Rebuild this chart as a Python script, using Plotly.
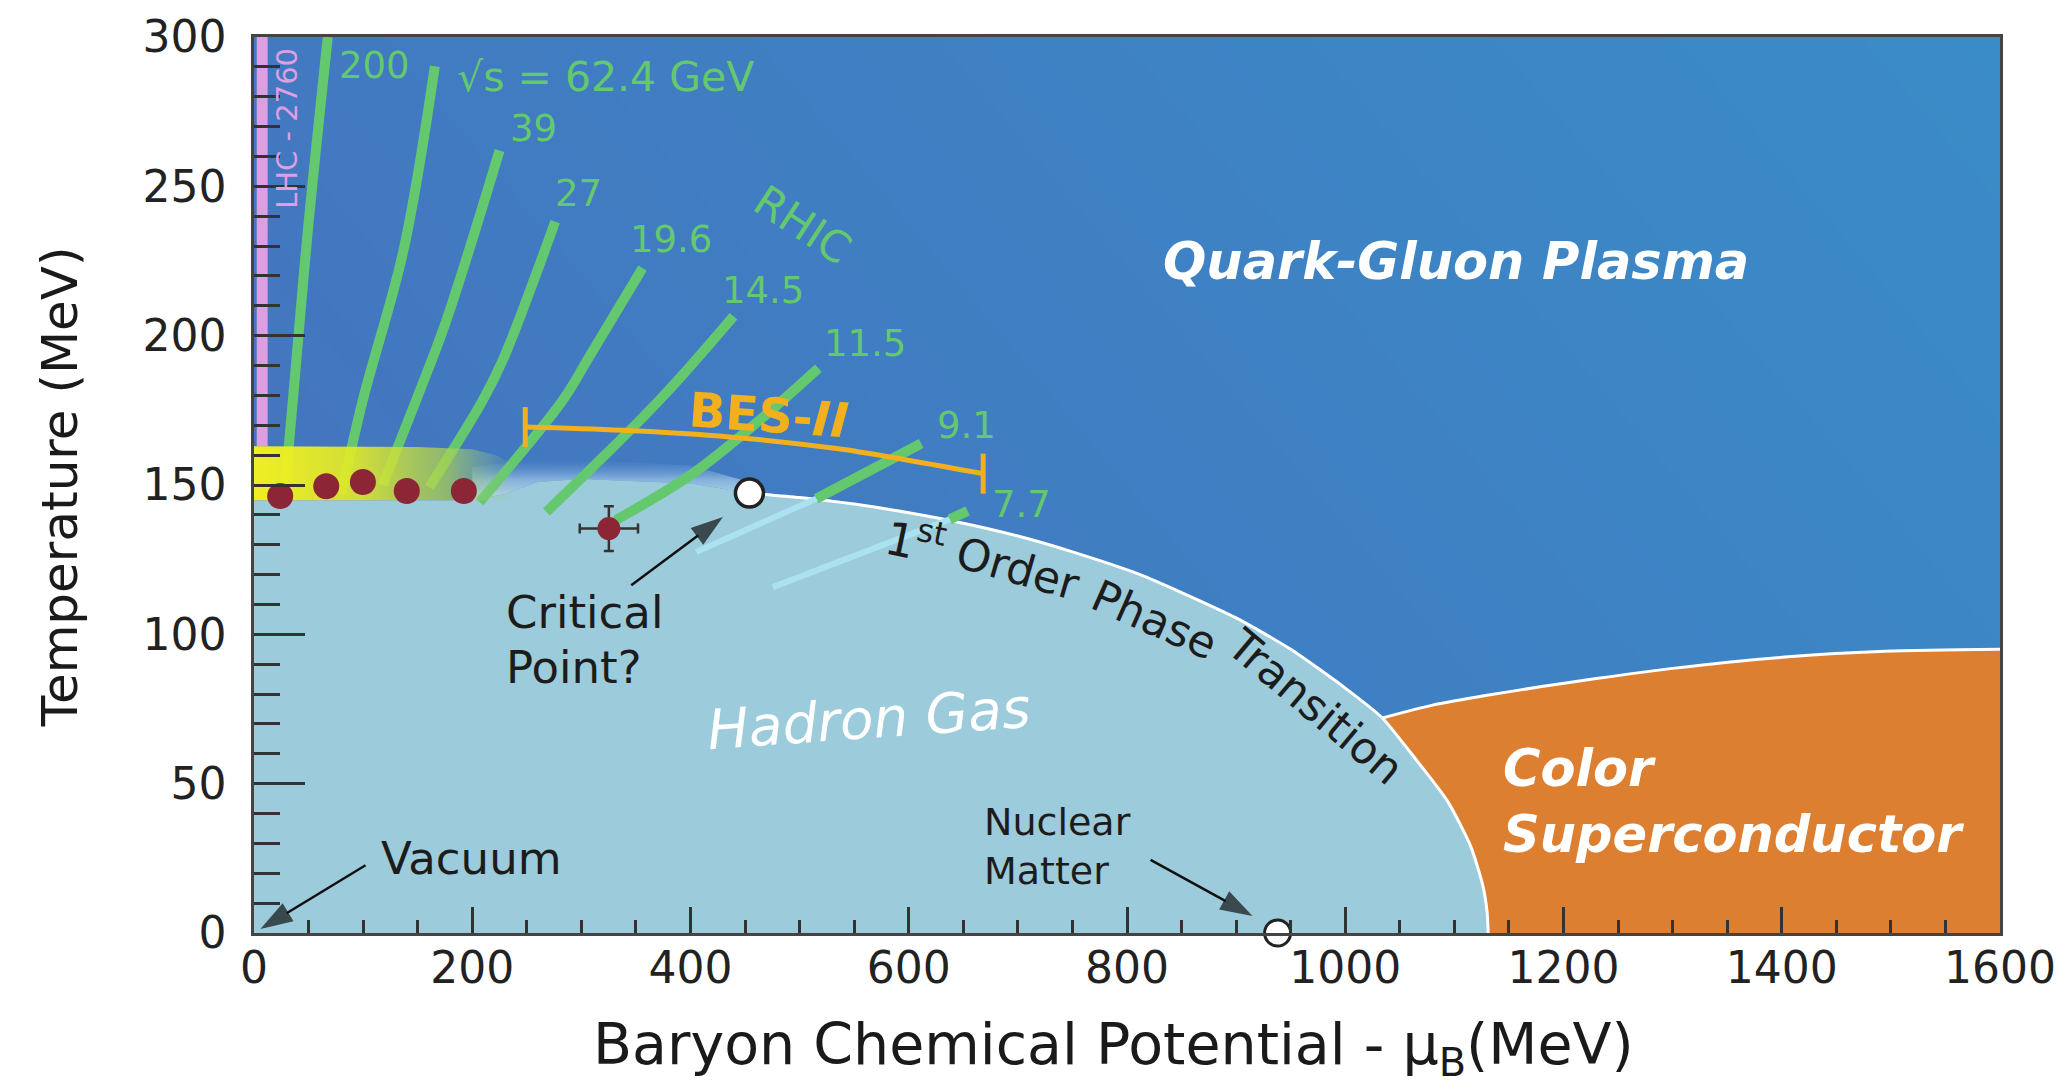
import plotly.graph_objects as go

FONT = "DejaVu Sans"

# ---------------- phase structure (mu_B [MeV], T [MeV]) ----------------
# first-order line from the critical point down to T = 0
boundary_mu = [454, 500, 550, 600, 650, 700, 750, 812, 850, 900, 950, 1000, 1034, 1065, 1094, 1115, 1126, 1130, 1131]
boundary_T = [147.3, 145.8, 143.6, 140.7, 137.2, 132.9, 127.6, 120.0, 114.0, 105.5, 95.0, 82.0, 72.0, 58.0, 44.0, 29.0, 16.0, 7.0, 0.0]

# upper edge of the hadron gas in the crossover region
crossover_mu = [0, 200, 230, 260, 300, 400, 454]
crossover_T = [144.9, 144.9, 147.0, 151.0, 152.0, 150.5, 147.3]

# soft edge above the crossover
haze_mu = [200, 240, 300, 400, 454]
haze_T = [156.0, 158.0, 158.5, 156.5, 151.0]

# colour-superconductor upper boundary
csc_mu = [1034, 1080, 1130, 1180, 1230, 1300, 1400, 1500, 1600]
csc_T = [72.0, 76.3, 79.6, 82.5, 85.2, 88.6, 92.3, 94.4, 95.0]

# lattice crossover band
band_mu = [0, 150, 200, 222, 237, 237, 0]
band_T = [163.0, 162.7, 162.0, 160.0, 157.0, 144.9, 144.9]

# LHC strip
lhc_mu = [2.5, 12.5]
lhc_T = [163.0, 300.0]

# ---------------- collision-energy trajectories ----------------
energy_labels = ["200", "√s = 62.4 GeV", "39", "27", "19.6", "14.5", "11.5", "9.1", "7.7"]
traj_mu = [
    [67.6, 49.3, 35.6, 28.0],
    [165.7, 137.0, 99.7, 80.0],
    [225.0, 175.9, 148.6, 118.0],
    [276.0, 229.0, 209.7, 160.7],
    [356.0, 306.8, 283.0, 206.7],
    [439.4, 371.5, 268.0],
    [517.2, 463.3, 402.0, 331.4],
    [611.4, 515.2],
    [654.0, 637.4],
]
traj_T = [
    [300.0, 235.0, 178.4, 147.0],
    [290.2, 228.6, 178.4, 147.0],
    [262.0, 204.7, 178.4, 150.0],
    [238.2, 192.7, 178.4, 149.3],
    [222.6, 192.7, 178.4, 144.3],
    [206.5, 178.4, 141.0],
    [189.1, 171.7, 153.8, 138.2],
    [163.9, 145.4],
    [141.3, 138.5],
]
# continuation of the two lowest energies inside the hadron gas
hg_traj_mu = [[515.2, 405.3], [637.4, 475.5]]
hg_traj_T = [[145.4, 127.6], [138.5, 115.8]]

label_mu = [75.6, 184.0, 255.7, 297.4, 382.0, 466.0, 560.0, 653.0, 703.7]
label_T = [290.5, 286.6, 269.3, 247.7, 232.2, 215.2, 197.5, 170.0, 143.5]
label_anchor = ["left", "left", "center", "center", "center", "center", "center", "center", "center"]
label_size = [37, 41, 37, 37, 37, 37, 37, 37, 37]

# ---------------- BES-II coverage ----------------
bes_mu = [248.6, 337.6, 435.7, 533.9, 599.4, 668.2]
bes_T = [169.4, 168.3, 166.1, 162.2, 158.3, 153.8]
bes_bar_half = 6.7

# ---------------- freeze-out points ----------------
fo_mu = [24.0, 66.2, 99.8, 140.0, 192.3]
fo_T = [146.3, 149.6, 151.0, 148.0, 148.0]
cp_est_mu = [325.2]
cp_est_T = [135.4]
cp_est_err_mu = [26.7]
cp_est_err_T = [7.5]

critical_mu = [454.0]
critical_T = [147.3]
nuclear_mu = [938.0]
nuclear_T = [0.0]

# pointer arrows: tail -> head
arrow_tail_mu = [345.7, 102.2, 821.6]
arrow_tail_T = [116.4, 22.7, 24.5]
arrow_head_mu = [429.7, 5.9, 915.0]
arrow_head_T = [139.3, 1.3, 5.7]

# ---------------- colours ----------------
QGP_LOW = "#4571bd"
QGP_HIGH = "#3a8cc8"
HADRON = "#9ccbdb"
ORANGE = "#dd7f31"
GREEN = "#64c86e"
CYAN = "#aae2f2"
BES = "#f2b01e"
PINK = "#dca0e0"
DOT = "#8c2535"
INK = "#1c1c1c"

fig = go.Figure()

# QGP background
fig.add_trace(go.Heatmap(
    x=[0, 1600], y=[0, 300], z=[[0.0, 0.7], [0.3, 1.0]],
    colorscale=[[0, QGP_LOW], [1, QGP_HIGH]], zsmooth="best",
    showscale=False, hoverinfo="skip"))

# hadron gas region
hg_x = crossover_mu + boundary_mu[1:] + [0]
hg_y = crossover_T + boundary_T[1:] + [0]
fig.add_trace(go.Scatter(x=hg_x, y=hg_y, mode="lines", fill="toself",
                         fillcolor=HADRON, line=dict(width=0), hoverinfo="skip"))

# colour superconductor region
i0 = boundary_mu.index(1034)
sc_x = csc_mu + [1600] + boundary_mu[i0:][::-1]
sc_y = csc_T + [0] + boundary_T[i0:][::-1]
fig.add_trace(go.Scatter(x=sc_x, y=sc_y, mode="lines", fill="toself",
                         fillcolor=ORANGE, line=dict(width=0), hoverinfo="skip"))

# soft crossover edge
edge = [(m, t) for m, t in zip(crossover_mu, crossover_T) if m >= haze_mu[0]][::-1]
hz_x = haze_mu + [m for m, _ in edge]
hz_y = haze_T + [t for _, t in edge]
fig.add_trace(go.Scatter(
    x=hz_x, y=hz_y, mode="lines", fill="toself", line=dict(width=0),
    fillgradient=dict(type="vertical", colorscale=[
        [0, "rgba(205,232,243,0.9)"], [0.5, "rgba(190,224,240,0.55)"],
        [1, "rgba(120,170,220,0)"]]),
    hoverinfo="skip"))

# white phase boundaries
fig.add_trace(go.Scatter(x=boundary_mu, y=boundary_T, mode="lines",
                         line=dict(color="white", width=3, shape="spline", smoothing=0.6),
                         hoverinfo="skip"))
fig.add_trace(go.Scatter(x=csc_mu, y=csc_T, mode="lines",
                         line=dict(color="white", width=3, shape="spline", smoothing=0.6),
                         hoverinfo="skip"))

# LHC strip
fig.add_trace(go.Scatter(
    x=[lhc_mu[0], lhc_mu[1], lhc_mu[1], lhc_mu[0], lhc_mu[0]],
    y=[lhc_T[0], lhc_T[0], lhc_T[1], lhc_T[1], lhc_T[0]],
    mode="lines", fill="toself", fillcolor=PINK, line=dict(width=0), hoverinfo="skip"))

# collision-energy trajectories
for mx, ty in zip(traj_mu, traj_T):
    fig.add_trace(go.Scatter(x=mx, y=ty, mode="lines",
                             line=dict(color=GREEN, width=10, shape="spline"),
                             hoverinfo="skip"))
for mx, ty in zip(hg_traj_mu, hg_traj_T):
    fig.add_trace(go.Scatter(x=mx, y=ty, mode="lines",
                             line=dict(color=CYAN, width=6), hoverinfo="skip"))

# lattice crossover band
fig.add_trace(go.Scatter(
    x=band_mu, y=band_T, mode="lines", fill="toself", line=dict(width=0),
    fillgradient=dict(type="horizontal", colorscale=[
        [0, "rgba(246,242,30,0.97)"], [0.4, "rgba(226,234,40,0.90)"],
        [0.75, "rgba(175,210,80,0.70)"], [1, "rgba(150,205,160,0.05)"]]),
    hoverinfo="skip"))

# BES-II range
fig.add_trace(go.Scatter(x=bes_mu, y=bes_T, mode="lines",
                         line=dict(color=BES, width=5, shape="spline"), hoverinfo="skip"))
for k in (0, -1):
    fig.add_trace(go.Scatter(x=[bes_mu[k], bes_mu[k]],
                             y=[bes_T[k] - bes_bar_half, bes_T[k] + bes_bar_half],
                             mode="lines", line=dict(color=BES, width=5), hoverinfo="skip"))

# freeze-out points
fig.add_trace(go.Scatter(x=fo_mu, y=fo_T, mode="markers",
                         marker=dict(color=DOT, size=26, line=dict(width=0)),
                         hoverinfo="skip"))
fig.add_trace(go.Scatter(
    x=cp_est_mu, y=cp_est_T, mode="markers",
    marker=dict(color=DOT, size=23, line=dict(width=0)),
    error_x=dict(type="data", array=cp_est_err_mu, color="#333", thickness=2.5, width=5),
    error_y=dict(type="data", array=cp_est_err_T, color="#333", thickness=2.5, width=5),
    hoverinfo="skip"))

# pointer arrows (shaft + arrowhead oriented along the shaft)
for tx, ty, hx, hy in zip(arrow_tail_mu, arrow_tail_T, arrow_head_mu, arrow_head_T):
    fig.add_trace(go.Scatter(
        x=[tx, hx], y=[ty, hy], mode="lines+markers", cliponaxis=False,
        line=dict(color="#111", width=2.5),
        marker=dict(symbol="arrow", size=[0, 34], angleref="previous", color="#111",
                    line=dict(width=0)),
        hoverinfo="skip"))

# critical point and nuclear matter
fig.add_trace(go.Scatter(x=critical_mu, y=critical_T, mode="markers",
                         marker=dict(color="white", size=28, line=dict(color="#222", width=3.5)),
                         hoverinfo="skip"))
fig.add_trace(go.Scatter(x=nuclear_mu, y=nuclear_T, mode="markers", cliponaxis=False,
                         marker=dict(color="white", size=26, line=dict(color="#222", width=3)),
                         hoverinfo="skip"))

ann = []


def label(x, y, text, size, color=INK, angle=0, xanchor="center", yanchor="middle",
          weight="normal", style="normal", align="center"):
    ann.append(dict(x=x, y=y, xref="x", yref="y", text=text, showarrow=False,
                    textangle=angle, xanchor=xanchor, yanchor=yanchor, align=align,
                    font=dict(family=FONT, size=size, color=color, weight=weight, style=style)))


for t, mx, ty, anc, fs in zip(energy_labels, label_mu, label_T, label_anchor, label_size):
    label(mx, ty, t, fs, GREEN, xanchor=anc)

label(503, 237, "RHIC", 43, GREEN, angle=33)
label(30.4, 269.3, "LHC - 2760", 29, PINK, angle=-90)
label(472, 173.5, "BES-<i>II</i>", 48, BES, angle=4, weight="bold")

label(1101.8, 224.8, "Quark-Gluon Plasma", 51, "white", weight="bold", style="italic")
label(563.3, 71.8, "Hadron Gas", 55, "white", angle=-4, style="italic")
label(1142.4, 55.1, "Color", 51, "white", xanchor="left", weight="bold", style="italic")
label(1142.4, 33.0, "Superconductor", 51, "white", xanchor="left", weight="bold", style="italic")

label(229, 107.4, "Critical", 45, xanchor="left")
label(229, 89.0, "Point?", 45, xanchor="left")
label(114.6, 25.0, "Vacuum", 45, xanchor="left")
label(667, 29.0, "Nuclear<br>Matter", 38, xanchor="left", align="left")

label(606, 131.5, "1<sup>st</sup>", 46, angle=12)
label(700.5, 122.0, "Order", 44, angle=16)
label(825.0, 105.0, "Phase", 44, angle=24)
label(973.0, 76.0, "Transition", 44, angle=40)

# axis titles
ann.append(dict(x=0.492, y=-0.1283, xref="paper", yref="paper", showarrow=False,
                text="Baryon Chemical Potential - μ<sub>B</sub>(MeV)",
                xanchor="center", yanchor="middle",
                font=dict(family=FONT, size=57, color="#1a1a1a")))
ann.append(dict(x=-0.111, y=0.4978, xref="paper", yref="paper", showarrow=False,
                text="Temperature (MeV)", textangle=-90,
                xanchor="center", yanchor="middle",
                font=dict(family=FONT, size=50, color="#1a1a1a")))

tick_font = dict(family=FONT, size=44, color="#222")

fig.update_layout(
    width=2069, height=1090,
    margin=dict(l=254, r=69, t=37, b=157),
    paper_bgcolor="white", plot_bgcolor=QGP_LOW,
    showlegend=False,
    annotations=ann,
    xaxis=dict(range=[0, 1600], tick0=0, dtick=200, ticks="inside", ticklen=26,
               tickwidth=2.5, tickcolor="#333",
               minor=dict(dtick=50, ticks="inside", ticklen=13, tickwidth=2.5, tickcolor="#333"),
               showline=True, linecolor="#444", linewidth=2.5, mirror=True,
               showgrid=False, zeroline=False, tickfont=tick_font, ticklabelstandoff=-6),
    yaxis=dict(range=[0, 300], tick0=0, dtick=50, ticks="inside", ticklen=51,
               tickwidth=2.5, tickcolor="#333",
               minor=dict(dtick=10, ticks="inside", ticklen=26, tickwidth=2.5, tickcolor="#333"),
               showline=True, linecolor="#444", linewidth=2.5, mirror=True,
               showgrid=False, zeroline=False, tickfont=tick_font, ticklabelstandoff=16),
)

fig.write_html("out.html")
